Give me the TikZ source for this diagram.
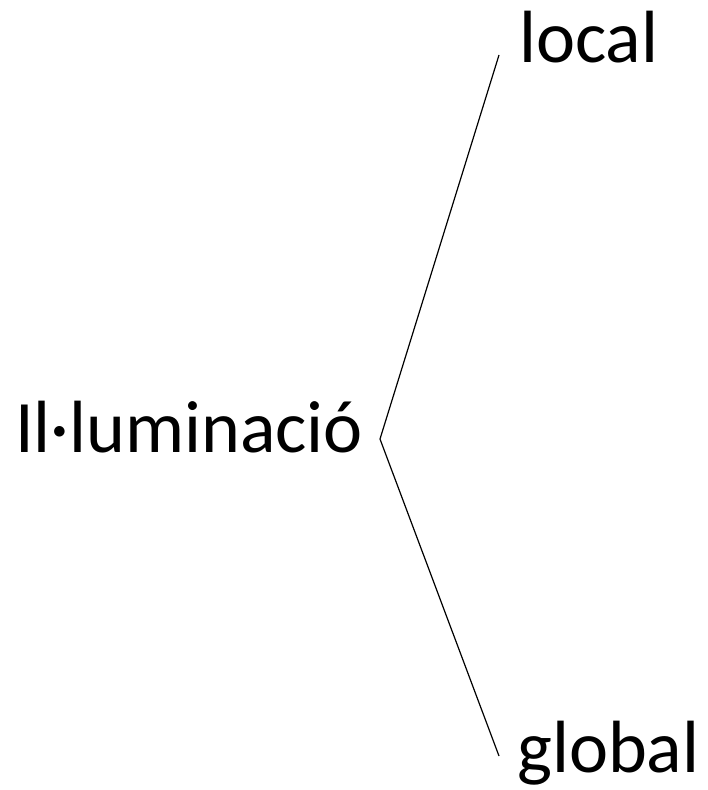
\documentclass[tikz,border=0pt]{standalone}
\usepackage{fontspec}
\setmainfont{Carlito}
\begin{document}
\begin{tikzpicture}[x=1pt,y=-1pt,
  lbl/.style={anchor=base west,inner sep=0pt,font=\fontsize{74}{88}\selectfont},
  branch/.style={draw=black,line width=1.2pt}]
\useasboundingbox (0,0) rectangle (707,790);
\node[lbl] (root) at (15,452) {Il·luminació};
\node[lbl] (loc) at (519,62) {local};
\node[lbl] (glob) at (517,772) {global};
\coordinate (v) at (380,439);
\coordinate (a) at (499,55);
\coordinate (b) at (499,756);
\draw[branch] (a) -- (v) -- (b);
\end{tikzpicture}
\end{document}
